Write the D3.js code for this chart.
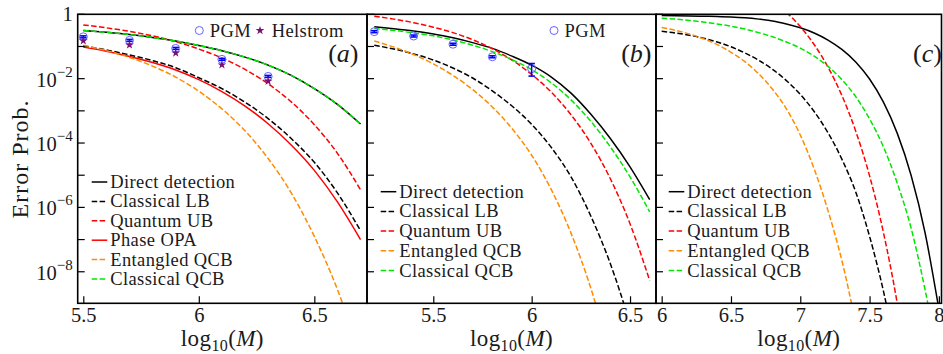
<!DOCTYPE html>
<html>
<head>
<meta charset="utf-8">
<script src="https://cdn.jsdelivr.net/npm/d3@7"></script>
<style>
	body { margin: 0; background: #fff; }
	svg text { font-family: "Liberation Serif", "DejaVu Serif", serif; fill: #1a1a1a; }
</style>
</head>
<body>
<svg id="chart" width="943" height="354"></svg>
<script>

// all curve values are log10(error probability)

// panel (a)
var xA = [5.5, 5.6, 5.7, 5.8, 5.9, 6.0, 6.1, 6.2, 6.3, 6.4, 6.5, 6.6, 6.7];
var directA   = [-0.50, -0.56, -0.63, -0.72, -0.83, -0.97, -1.13, -1.33, -1.58, -1.90, -2.31, -2.80, -3.41];
var classLbA  = [-0.98, -1.11, -1.26, -1.44, -1.66, -1.97, -2.31, -2.73, -3.24, -3.86, -4.60, -5.55, -6.72];
var quantUbA  = [-0.33, -0.42, -0.53, -0.67, -0.85, -1.08, -1.36, -1.71, -2.16, -2.72, -3.43, -4.32, -5.45];
var phaseOpaA = [-1.02, -1.15, -1.31, -1.50, -1.73, -2.03, -2.40, -2.85, -3.40, -4.06, -4.85, -5.83, -7.00];
var entQcbA   = [-0.96, -1.13, -1.34, -1.61, -1.95, -2.39, -2.94, -3.62, -4.48, -5.55, -6.90, -8.55, -10.6];
var classQcbA = [-0.50, -0.56, -0.63, -0.72, -0.83, -0.97, -1.13, -1.33, -1.58, -1.90, -2.31, -2.80, -3.41];

var pgmXA  = [5.5, 5.7, 5.9, 6.1, 6.3];
var pgmA   = [-0.70, -0.81, -1.06, -1.40, -1.93];
var pgmLoA = [-0.73, -0.84, -1.09, -1.43, -1.96];
var pgmHiA = [-0.67, -0.78, -1.03, -1.37, -1.90];
var helA   = [-0.82, -0.95, -1.20, -1.57, -2.08];

// panel (b)
var xB = [5.2, 5.3, 5.4, 5.5, 5.6, 5.7, 5.8, 5.9, 6.0, 6.1, 6.2, 6.3, 6.4, 6.5, 6.6];
var directB   = [-0.39, -0.45, -0.52, -0.61, -0.73, -0.88, -1.06, -1.30, -1.58, -1.95, -2.45, -3.10, -3.86, -4.74, -5.76];
var classLbB  = [-0.96, -1.08, -1.23, -1.42, -1.67, -1.98, -2.38, -2.85, -3.42, -4.14, -5.05, -6.26, -7.75, -9.6, null];
var quantUbB  = [-0.06, -0.15, -0.26, -0.40, -0.57, -0.79, -1.07, -1.42, -1.87, -2.42, -3.12, -4.00, -5.11, -6.51, -8.27];
var entQcbB   = [-0.83, -1.02, -1.25, -1.54, -1.90, -2.34, -2.88, -3.55, -4.38, -5.45, -6.80, -8.50, -10.6, null, null];
var classQcbB = [-0.44, -0.50, -0.58, -0.67, -0.80, -0.96, -1.16, -1.41, -1.72, -2.13, -2.66, -3.32, -4.12, -5.05, -6.14];

var pgmXB  = [5.2, 5.4, 5.6, 5.8, 6.0];
var pgmB   = [-0.54, -0.675, -0.93, -1.32, -1.69];
var pgmLoB = [-0.57, -0.705, -0.96, -1.35, -1.92];
var pgmHiB = [-0.51, -0.645, -0.90, -1.29, -1.53];

// panel (c)
var xC = [6.0, 6.1, 6.2, 6.3, 6.4, 6.5, 6.6, 6.7, 6.8, 6.9, 7.0, 7.1, 7.2, 7.3, 7.4, 7.5, 7.6, 7.7, 7.8, 7.9, 8.0];
var directC   = [-0.04, -0.045, -0.05, -0.06, -0.07, -0.085, -0.11, -0.15, -0.205, -0.30, -0.42, -0.58, -0.80, -1.09, -1.48, -2.01, -2.73, -3.70, -5.01, -6.78, -9.16];
var classLbC  = [-0.53, -0.58, -0.65, -0.74, -0.86, -1.01, -1.20, -1.43, -1.71, -2.06, -2.49, -3.02, -3.68, -4.50, -5.52, -6.90, -8.60, -10.7, null, null, null];
var quantUbC  = [null, null, null, null, null, null, null, null, null, 0.06, -0.38, -0.94, -1.64, -2.52, -3.63, -5.02, -6.78, -8.99, -11.8, null, null];
var entQcbC   = [-0.41, -0.50, -0.61, -0.76, -0.94, -1.18, -1.47, -1.85, -2.33, -2.94, -3.75, -4.80, -6.10, -7.65, -9.60, null, null, null, null, null, null];
var classQcbC = [-0.12, -0.15, -0.19, -0.24, -0.30, -0.37, -0.46, -0.57, -0.70, -0.86, -1.05, -1.30, -1.62, -2.03, -2.56, -3.25, -4.12, -5.25, -6.65, -8.55, -10.8];

var decades = [0, -1, -2, -3, -4, -5, -6, -7, -8];
var labelDecades = [0, -2, -4, -6, -8];

var legendNames = {
	direct: "Direct detection",
	classLb: "Classical LB",
	quantUb: "Quantum UB",
	phaseOpa: "Phase OPA",
	entQcb: "Entangled QCB",
	classQcb: "Classical QCB"
};

var styles = {
	direct:   { color: "#000000", dash: null },
	classLb:  { color: "#000000", dash: "5.5,2.4" },
	quantUb:  { color: "#ff0000", dash: "5.5,2.4" },
	phaseOpa: { color: "#ff0000", dash: null },
	entQcb:   { color: "#ff8c00", dash: "5.5,2.4" },
	classQcb: { color: "#00e600", dash: "5.5,2.4" }
};

var order = ["direct", "classLb", "quantUb", "phaseOpa", "entQcb", "classQcb"];

var plotTop = 14.3, plotBottom = 303.3;

var panels = [
	{ key: "a", left: 77.7, right: 367, xDomain: [5.4758, 6.728], xTicks: [5.5, 6, 6.5], x: xA,
	  series: { direct: directA, classLb: classLbA, quantUb: quantUbA, phaseOpa: phaseOpaA, entQcb: entQcbA, classQcb: classQcbA },
	  pgm: { x: pgmXA, v: pgmA, lo: pgmLoA, hi: pgmHiA }, hel: helA,
	  legendX: 91.7, legendY: 182, legendStep: 19.4, tagX: 358.5 },
	{ key: "b", left: 367, right: 656, xDomain: [5.163, 6.632], xTicks: [5.5, 6, 6.5], x: xB,
	  series: { direct: directB, classLb: classLbB, quantUb: quantUbB, entQcb: entQcbB, classQcb: classQcbB },
	  pgm: { x: pgmXB, v: pgmB, lo: pgmLoB, hi: pgmHiB },
	  legendX: 380.7, legendY: 191.7, legendStep: 19.7, tagX: 651.5 },
	{ key: "c", left: 656, right: 941.5, xDomain: [5.959, 8.019], xTicks: [6, 6.5, 7, 7.5, 8], x: xC,
	  series: { direct: directC, classLb: classLbC, quantUb: quantUbC, entQcb: entQcbC, classQcb: classQcbC },
	  legendX: 668.7, legendY: 191.7, legendStep: 19.7, tagX: 942 }
];

var svg = d3.select("#chart");

var yScale = d3.scaleLog()
	.domain([Math.pow(10, -8.98), 1])
	.range([plotBottom, plotTop]);

function py(v) { return yScale(Math.pow(10, v)); }

function drawPanel(p) {

	var x = d3.scaleLinear().domain(p.xDomain).range([p.left, p.right]);
	var g = svg.append("g").attr("class", "panel " + p.key);

	svg.append("clipPath").attr("id", "clip" + p.key)
		.append("rect")
		.attr("x", p.left).attr("y", plotTop)
		.attr("width", p.right - p.left).attr("height", plotBottom - plotTop);

	var line = d3.line()
		.defined(function(d) { return d[1] !== null; })
		.x(function(d) { return x(d[0]); })
		.y(function(d) { return py(d[1]); })
		.curve(d3.curveMonotoneX);

	var curves = g.append("g").attr("clip-path", "url(#clip" + p.key + ")");

	order.forEach(function(k) {
		var vals = p.series[k];
		if (!vals) return;
		var pts = p.x.map(function(v, j) { return [v, vals[j]]; });
		curves.append("path")
			.attr("d", line(pts))
			.attr("fill", "none")
			.attr("stroke", styles[k].color)
			.attr("stroke-width", 1.5)
			.attr("stroke-dasharray", styles[k].dash);
	});

	// PGM points with error bars, Helstrom stars
	if (p.pgm) {
		var marks = g.append("g");
		p.pgm.x.forEach(function(xv, j) {
			var cx = x(xv);
			marks.append("circle")
				.attr("cx", cx).attr("cy", py(p.pgm.v[j])).attr("r", 4)
				.attr("fill", "none").attr("stroke", "#6464ff").attr("stroke-width", 1);
			marks.append("line")
				.attr("x1", cx).attr("x2", cx)
				.attr("y1", py(p.pgm.lo[j])).attr("y2", py(p.pgm.hi[j]))
				.attr("stroke", "#0000ff").attr("stroke-width", 1.5);
			[p.pgm.lo[j], p.pgm.hi[j]].forEach(function(e) {
				marks.append("line")
					.attr("x1", cx - 3.2).attr("x2", cx + 3.2)
					.attr("y1", py(e)).attr("y2", py(e))
					.attr("stroke", "#0000ff").attr("stroke-width", 1.6);
			});
			if (p.hel) {
				marks.append("path")
					.attr("d", d3.symbol().type(d3.symbolStar).size(24)())
					.attr("transform", "translate(" + cx + "," + py(p.hel[j]) + ")")
					.attr("fill", "#760f76");
			}
		});
	}

	// ticks pointing inwards
	var xAxis = d3.axisBottom(x)
		.tickValues(p.xTicks)
		.tickSize(-7)
		.tickPadding(4.5)
		.tickFormat(function(d) { return String(d); });

	var gx = g.append("g")
		.attr("transform", "translate(0," + plotBottom + ")")
		.call(xAxis);
	gx.select(".domain").remove();
	gx.selectAll("line").attr("stroke", "#000").attr("stroke-width", 1.2);
	gx.selectAll("text").attr("font-size", 20.5).attr("fill", "#1a1a1a")
		.style("font-family", "'Liberation Serif', serif");

	var gy = g.append("g");
	gy.selectAll("line")
		.data(decades)
		.enter()
		.append("line")
		.attr("x1", p.left).attr("x2", p.left + 7)
		.attr("y1", function(d) { return py(d); })
		.attr("y2", function(d) { return py(d); })
		.attr("stroke", "#000").attr("stroke-width", 1.2);

	if (p.key === "a") {
		labelDecades.forEach(function(d) {
			var t = gy.append("text")
				.attr("text-anchor", "end")
				.attr("x", p.left - 5)
				.attr("font-size", 20.5);
			if (d === 0) {
				t.attr("y", py(d) + 6.5).text("1");
			} else {
				t.attr("y", py(d) + 8);
				t.append("tspan").text("10");
				t.append("tspan").attr("dy", -10).attr("font-size", 15).text("\u2212" + (-d));
			}
		});
	}

	// frame
	g.append("rect")
		.attr("x", p.left).attr("y", plotTop)
		.attr("width", p.right - p.left).attr("height", plotBottom - plotTop)
		.attr("fill", "none").attr("stroke", "#000").attr("stroke-width", 1.6);

	// x label log10(M)
	var xl = g.append("text")
		.attr("x", (p.left + p.right) / 2)
		.attr("y", 346)
		.attr("text-anchor", "middle")
		.attr("font-size", 23)
		.attr("letter-spacing", 0.4);
	xl.append("tspan").text("log");
	xl.append("tspan").attr("dy", 5).attr("font-size", 16).text("10");
	xl.append("tspan").attr("dy", -5).text("(");
	xl.append("tspan").attr("font-style", "italic").text("M");
	xl.append("tspan").text(")");

	// panel tag
	var tag = g.append("text")
		.attr("x", p.tagX).attr("y", 62)
		.attr("text-anchor", "end")
		.attr("font-size", 26);
	tag.append("tspan").text("(");
	tag.append("tspan").attr("font-style", "italic").text(p.key);
	tag.append("tspan").text(")");

	// legend
	var keys = order.filter(function(k) { return p.series[k]; });
	var leg = g.append("g").selectAll(".item")
		.data(keys)
		.enter()
		.append("g")
		.attr("class", "item")
		.attr("transform", function(d, i) { return "translate(" + p.legendX + "," + (p.legendY + i * p.legendStep) + ")"; });

	leg.append("line")
		.attr("x1", 0).attr("x2", 15.6)
		.attr("stroke", function(d) { return styles[d].color; })
		.attr("stroke-width", 1.5)
		.attr("stroke-dasharray", function(d) { return styles[d].dash; });

	leg.append("text")
		.attr("x", 18.5).attr("y", 6)
		.attr("font-size", 18.5)
		.attr("letter-spacing", 0.4)
		.text(function(d) { return legendNames[d]; });
}

panels.forEach(drawPanel);

// marker legends at the top of (a) and (b)
function markerKey(cx, label) {
	svg.append("circle")
		.attr("cx", cx).attr("cy", 30.5).attr("r", 4)
		.attr("fill", "none").attr("stroke", "#6464ff").attr("stroke-width", 1);
	svg.append("text").attr("x", cx + 10.5).attr("y", 36.5)
		.attr("font-size", 18.5).attr("letter-spacing", 0.4).text(label);
}
markerKey(199.3, "PGM");
markerKey(554, "PGM");

svg.append("path")
	.attr("d", d3.symbol().type(d3.symbolStar).size(24)())
	.attr("transform", "translate(260,30.5)")
	.attr("fill", "#760f76");
svg.append("text").attr("x", 271.7).attr("y", 36.5)
	.attr("font-size", 18.5).attr("letter-spacing", 0.4).text("Helstrom");

// y label
svg.append("text")
	.attr("transform", "translate(28,159) rotate(-90)")
	.attr("text-anchor", "middle")
	.attr("font-size", 24)
	.attr("letter-spacing", 1)
	.text("Error Prob.");

</script>
</body>
</html>
